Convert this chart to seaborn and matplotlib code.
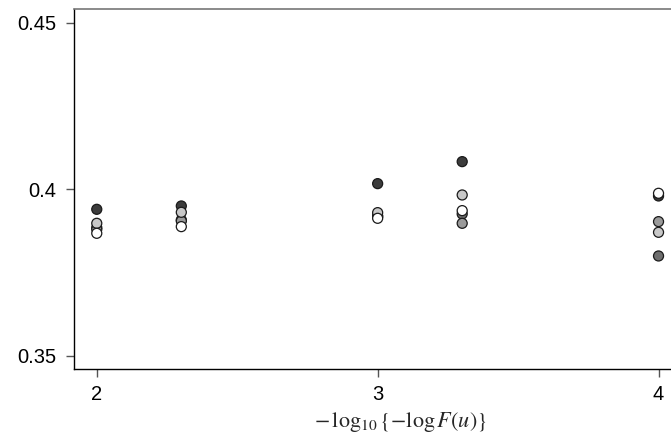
import numpy as np
import pandas as pd
import matplotlib
matplotlib.use("Agg")
import matplotlib.pyplot as plt
import seaborn as sns

# x positions of the five clusters
x_vals = [2.0, 2.301, 3.0, 3.301, 4.0]

# one list per series (darkest fill first)
series_a = [0.3940, 0.3950, 0.4017, 0.4083, 0.3980]
series_b = [0.3885, 0.3908, 0.3918, 0.3926, 0.3800]
series_c = [0.3880, 0.3905, 0.3920, 0.3898, 0.3903]
series_d = [0.3898, 0.3931, 0.3930, 0.3983, 0.3871]
series_e = [0.3868, 0.3888, 0.3913, 0.3936, 0.3988]

names = ["a", "b", "c", "d", "e"]
fills = ["#3c3c3c", "#6e6e6e", "#9a9a9a", "#c8c8c8", "#ffffff"]

df = pd.DataFrame({
    "x": x_vals * 5,
    "y": series_a + series_b + series_c + series_d + series_e,
    "s": sum([[n] * len(x_vals) for n in names], []),
})

sns.set_style("white")
plt.rcParams["font.family"] = ["Liberation Sans", "DejaVu Sans"]
plt.rcParams["mathtext.fontset"] = "stix"

fig = plt.figure(figsize=(6.71, 4.41), dpi=100)
ax = fig.add_axes([74.3 / 671, 71.7 / 441, (681 - 74.3) / 671, 360 / 441])

sns.scatterplot(data=df, x="x", y="y", hue="s", palette=dict(zip(names, fills)),
                s=52, edgecolor="#1a1a1a", linewidth=0.9, legend=False, ax=ax)

ax.set_xlim(1.92, 4.08)
ax.set_ylim(0.346, 0.454)
ax.set_xticks([2, 3, 4])
ax.set_xticklabels(["2", "3", "4"])
ax.set_yticks([0.35, 0.4, 0.45])
ax.set_yticklabels(["0.35", "0.4", "0.45"])
ax.tick_params(direction="out", length=6, width=1, color="#555555",
               labelsize=14.5, labelcolor="black", bottom=True, left=True)
ax.tick_params(axis="y", pad=7)
ax.tick_params(axis="x", pad=5)

for side in ["left", "bottom"]:
    ax.spines[side].set_color("black")
    ax.spines[side].set_linewidth(1.0)
ax.spines["top"].set_color("#777777")
ax.spines["top"].set_linewidth(1.2)
ax.spines["right"].set_visible(False)

ax.set_ylabel("")
ax.set_xlabel(r"$-\,\log_{10}\{-\log F(u)\}$", fontsize=16)
ax.xaxis.set_label_coords(0.537, -0.112)
ax.xaxis.label.set_va("top")

fig.savefig("out.png", dpi=100)
